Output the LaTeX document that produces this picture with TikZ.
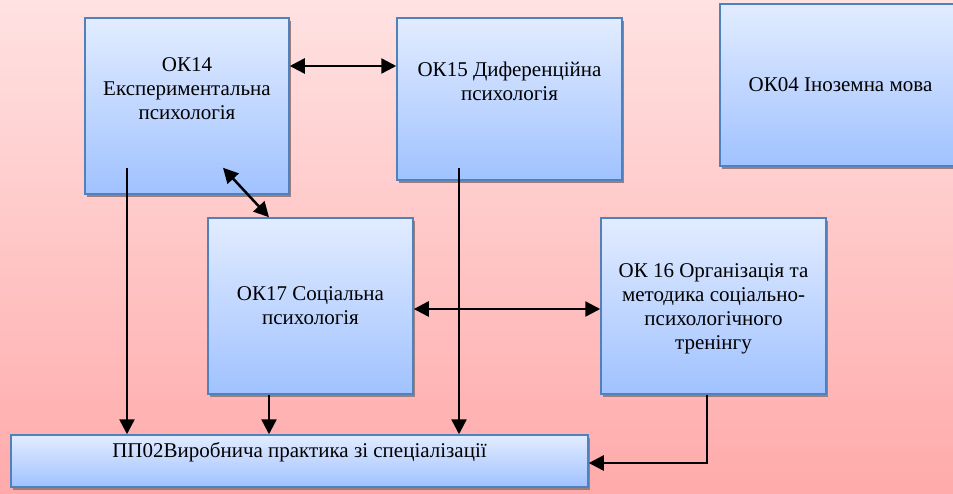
\documentclass[tikz,border=0pt]{standalone}
\usepackage{fontspec}
\setmainfont{Liberation Serif}
\usetikzlibrary{positioning,arrows.meta,shadows}

\definecolor{kborder}{RGB}{79,129,189}
\definecolor{ktop}{RGB}{226,236,255}
\definecolor{kbot}{RGB}{160,194,255}
\definecolor{kshadow}{RGB}{160,125,125}
\definecolor{bgtop}{RGB}{255,226,226}
\definecolor{bgbot}{RGB}{255,170,170}

\begin{document}
\begin{tikzpicture}[x=1pt,y=-1pt,on grid,font=\fontsize{21}{24}\selectfont]
        \tikzstyle{course}=[draw=kborder,line width=1.5pt,top color=ktop,bottom color=kbot,align=center,inner sep=0pt,
          drop shadow={shadow xshift=2pt,shadow yshift=-3pt,fill=kshadow,opacity=1}]
        \tikzstyle{link}=[line width=2.5pt,-{Triangle[length=15pt,width=15pt]}]
        \tikzstyle{both}=[line width=2.5pt,{Triangle[length=15pt,width=15pt]}-{Triangle[length=15pt,width=15pt]}]
        \shade[top color=bgtop,bottom color=bgbot] (0,0) rectangle (953,493);
        \useasboundingbox (0,0) rectangle (953,493);
        \node[course,minimum width=204pt,minimum height=176pt,text height=62pt,text depth=36pt] (Ek) at (187,106) {ОК14\\Експериментальна\\психологія};
        \node[course,minimum width=225pt,minimum height=162pt,text height=38pt,text depth=36pt] (Dy) at (509.5,99) {ОК15 Диференційна\\психологія};
        \node[course,minimum width=241pt,minimum height=162pt] (In) at (840.5,85) {ОК04 Іноземна мова};
        \node[course,minimum width=205pt,minimum height=176pt] (So) at (310.5,306) {ОК17 Соціальна\\психологія};
        \node[course,minimum width=225pt,minimum height=176pt,text height=92pt,text depth=5pt] (Tr) [right=403pt of So] {ОК 16 Організація та\\методика соціально-\\психологічного\\тренінгу};
        \node[course,minimum width=577pt,minimum height=52pt,text height=14pt,text depth=22pt] (Pr) at (299.5,461) {ПП02Виробнича практика зі спеціалізації};
        % ends inside the boxes
        \coordinate (ekright) at ([yshift=40pt]Ek.east);
        \coordinate (ekdiag) at ([xshift=36pt,yshift=27pt]Ek.south);
        \coordinate (ekout) at ([xshift=-60pt,yshift=27pt]Ek.south);
        \coordinate (dyout) at ([xshift=-50.5pt,yshift=13pt]Dy.south);
        \coordinate (soin) at ([xshift=-41.5pt]So.north);
        \coordinate (soout) at ([xshift=-41.5pt]So.south);
        \draw[both] (ekright) -- (ekright -| Dy.west);
        \draw[both] (ekdiag) -- (soin);
        \draw[both] ([yshift=-3pt]So.east) -- ([yshift=-3pt]Tr.west);
        \draw[link] (ekout) -- (ekout |- Pr.north);
        \draw[link] (soout) -- (soout |- Pr.north);
        \draw[link] (dyout) -- (dyout |- Pr.north);
        \draw[link] ([xshift=-6.5pt]Tr.south) |- ([yshift=-2pt]Pr.east);
    \end{tikzpicture}
\end{document}
